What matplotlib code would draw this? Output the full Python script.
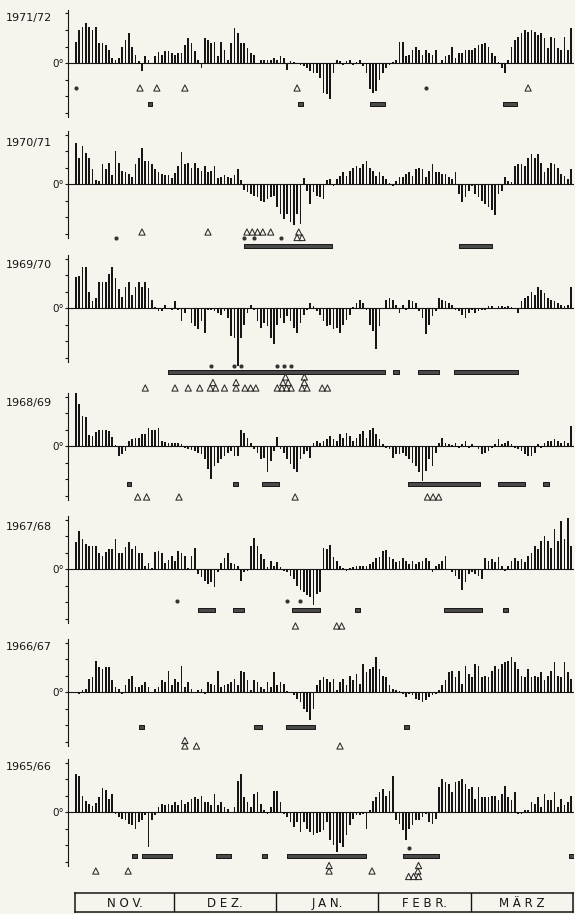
import numpy as np
import matplotlib.pyplot as plt

# daily values (deg C) Nov 1 .. Mar 31, one list per winter
seasons = ['1971/72', '1970/71', '1969/70', '1968/69', '1967/68', '1966/67', '1965/66']
months = ['N O V.', 'D E Z.', 'J A N.', 'F E B R.', 'M Ä R Z']
month_len = [30, 31, 31, 28, 31]

t7172 = ([6.5, 10, 11, 12, 11, 10, 11, 6, 6, 5.5, 4, 1.5, 1, 1.5, 5, 7, 9, 5, 2.5, 0.5, -2.5, 2, 1, -0.4, 2, 3.3, 2.5, 3.5, 3.5, 3]
         + [2.5, 3, 3, 5.5, 7.5, 6, 3.5, 1, -1.5, 7.5, 7, 6, 6.5, 2, 6.5, 4, 1, 6, 10.5, 9, 6, 6, 4.5, 3, 2.5, -0.3, 0.8, 1, 1, 1, 1.5]
         + [1, 2, 1.5, -2, 0.5, 0.3, -0.3, -0.5, -0.8, -1.5, -2.5, -3, -3, -4.5, -9, -9.5, -11, -3, 0.8, 0.5, -0.5, 0.5, 1, -0.5, 0.3, 0.8, -1, -3, -8, -9, -8.5]
         + [-5, -3, -1.5, -0.5, 0.3, 1, 6.5, 6.5, 2, 2.5, 4, 5, 4, 2.5, 4, 3, 2.5, 4, -0.3, 1, 2, 2.5, 5, 1.5, 3, 3, 4, 4]
         + [3.8, 4.5, 5.5, 5.8, 6, 5, 3, 2, 0.3, -1.5, -3, 1, 5, 7, 8, 9, 10, 9.5, 10, 9.5, 8.5, 9, 7.5, 4.5, 8, 7.5, 4.5, 4, 8, 4, 10.5])

t7071 = ([12.5, 8, 11.5, 9.5, 8, 4.5, 1.2, 0.9, 6, 4.5, 6.5, 2.7, 10, 6.5, 4, 3.5, 3, 2.2, 6.2, 8, 11, 7, 7, 6, 4.5, 3.5, 3, 2.8, 2.7, 1.7]
         + [3.2, 5.5, 9.8, 6, 6.5, 5, 6.5, 5, 4, 5.5, 3.7, 4, 5.5, 1.7, 2.2, 2.8, 2.2, 1.7, 2.7, 4.5, 1.2, -1.8, -2.5, -3, -3.5, -4, -5, -5.5, -4.5, -4, -3.5]
         + [-7, -9, -10.5, -9, -11.5, -12.5, -9, -12, 1.7, -2, -6, -2.5, -3.5, -4, -4.5, 1.2, 1.5, -0.5, 1.5, 2.5, 3.5, 2.5, 4, 5, 5.5, 5, 6, 7, 5, 4, 2.5]
         + [3.5, 2.5, 1.5, 0.3, -0.5, 1, 2, 2, 3, 3.5, 2.5, 4.5, 5, 4.5, 2, 4, 6, 3.5, 3.5, 3, 3, 2, 1.5, 3.5, -3, -5.5, -4, -2]
         + [-0.5, -3, -4, -5, -6, -7, -8, -9.5, -3, -2, 2, 1, 0.5, 5.5, 6, 6, 5.5, 8, 9, 8, 9, 6.5, 3.5, 5, 6.5, 6, 5, 3, 2.5, 1.5, 4.5])

t6970 = ([9.3, 9.8, 12.3, 12.3, 5, 2, 3, 7.8, 7.8, 7.8, 10.3, 12.3, 9, 5.8, 3.3, 6.3, 7.8, 4, 6.3, 8, 6.3, 7.8, 6, 2.3, 0.3, -0.8, -1, 1, -0.3, -0.5]
         + [2, -0.5, -4, -1.5, -0.3, -4.5, -5.5, -6.5, -4, -7.5, -0.5, -0.5, -1, -1.5, -2, -1, -3, -8.5, -9, -17.5, -9, -5, -1.5, 1, -0.5, -4, -6, -4.5, -5.5, -9, -11]
         + [-5, -3, -4.5, -2.5, -4, -6, -7.5, -4.5, -2, -0.5, 1.5, 0.5, -1, -2, -4, -5.5, -5, -6.5, -6, -7.5, -5, -3.5, -2, 0.3, 1.5, 2.5, 1.5, -0.5, -5, -7, -12.5]
         + [-5.5, -0.3, 2.5, 3, 2.5, 1, -1.5, 1, -0.5, 2.5, 2, 1.5, -1, -3, -8, -5, -2.5, -1, 3, 2.5, 2, 1.5, 1, -0.5, -1, -2, -3, -1.5]
         + [-0.5, -1.5, -1, -0.5, -0.5, 0.5, 0.7, -0.3, 0.5, 0.5, 0.3, 0.5, 0.2, -0.3, -1.5, 2, 3, 3.5, 5, 4, 6.5, 5.5, 4.5, 3, 2.5, 2, 1.5, 1, 0.5, 1, 6.5])

t6869 = ([16, 12.8, 9, 8.8, 3.3, 3, 4.3, 4.8, 5, 4.8, 4.5, 2.8, 0.3, -3, -2.5, -1.5, 1.5, 2, 2.5, 2.5, 3.5, 3.5, 5.5, 5, 5, 5.5, 1.5, 1.2, 1, 1]
         + [1, 0.8, 0.5, -0.5, -1, -1.2, -1.5, -2, -2.5, -4, -7, -10, -6, -5, -4, -3, -2, -1.5, -3, -3, 5, 4, 2.5, 1, -1, -2, -4, -3.5, -8, -4.5, -1.5]
         + [2.7, -1, -2, -4, -5.5, -7, -8, -4, -2.5, -1.5, -3.5, 1, 1.5, 1, 1.5, 2, 3, 2, 1.5, 3.5, 2.5, 4, 3, 1.5, 2.5, 3.5, 4.5, 2.5, 5, 5.5, 3.5]
         + [2, 0.5, -0.5, -1, -3.5, -2.5, -2.5, -2, -3, -4, -5, -6, -8, -10.5, -7.5, -4, -6, -2, 1, 2.5, 1, 0.5, 0.3, 0.8, -0.5, 0.5, 1.5, -0.5]
         + [0.5, -0.3, -1, -2.5, -2, -1.5, -0.5, 0.5, 2, 0.5, 1, 1.5, 0.5, -0.5, -1, -1.5, -2.5, -3, -3, -2, 0.5, -0.5, 1, 1.5, 1.5, 2, 1.5, 1, 1.5, 1, 6])

t6768 = ([8.3, 11.6, 9, 7.6, 7, 7, 7, 4.8, 3.8, 5.3, 6, 6, 9, 5, 5, 6.6, 8.3, 6, 7, 4.8, 4.8, 0.8, 1.8, 0.3, 5.3, 5.6, 4.8, 1.8, 2.8, 3.8]
         + [2.3, 5.6, 4.8, 3.8, 0.3, 4, 6.3, -1.5, -2.5, -3.5, -4.5, -4, -5.5, -1, 1.8, 3.3, 4.8, 1.8, 1.5, 1, -3.5, -1, -0.5, 7, 9.5, 7, 4.5, 3, 0.5, 2.5, 1]
         + [2, 0.5, -0.5, -0.8, -2, -3, -5, -6.5, -7, -8, -8.5, -11, -7.5, -7, 6.5, 6, 7.3, 3.5, 2.5, 1, 0.3, -0.5, 0.3, 0.5, 1, 1, 1, 0.8, 1.5, 2, 3.3]
         + [3.5, 5.5, 5.8, 3.5, 3, 2, 2.5, 3.3, 2.3, 1.5, 2.5, 1.5, 2, 2.5, 3.3, 2.5, -1, 1, 1.5, 2.5, 4, -0.3, -1, -2, -3, -6.5, -4, -1.5]
         + [-1, -1.5, -2, -3, 3.3, 2.5, 3, 2, 3.5, 1, -0.5, 1, 2.5, 3.3, 2.5, 3, 2, 4, 5, 7, 6, 8.5, 10, 8.5, 6.5, 12, 8.5, 14.5, 9, 15.5, 7])

t6667 = ([-0.3, -0.5, 0.5, 1, 4, 4.5, 9.5, 7.5, 7, 7.5, 7.5, 3.5, 1.5, 1, -0.5, 2, 4, 5, 1.5, 1.5, 2, 3, 1.5, -0.3, 1, 1.5, 3.5, 3, 6.5, 2]
         + [4, 3, 8, 1.5, 3, 1, -0.3, 0.5, 1, -0.5, 3, 2.5, 2, 6.5, 1.5, 2, 2.5, 3, 4, 2, 6.5, 6, 3.5, 0.5, 3.5, 3, 1.5, 1, 3, 1.5, 6]
         + [2, 3, 2.5, 0.3, -0.3, -1, -2, -3, -5, -6, -8.5, -5, 2, 3.5, 4.5, 4, 3, 4, 0.5, 3, 4, 2, 5, 3.5, 5.5, 2.5, 8.5, 6, 7, 7.5, 10.5]
         + [7, 5, 4.5, 2, 1, 0.5, 0.3, -0.5, -1.5, -0.5, -1, -2, -2.5, -3, -2.5, -1.5, -1, -0.5, 0.5, 2, 3.5, 6, 6.5, 4.5, 6.5, 2.5, 8, 5.5]
         + [4.5, 8.5, 8, 4.5, 5, 4.5, 6.5, 8, 7, 8.5, 9, 9.5, 10.5, 9, 7, 5, 4.5, 7, 4.5, 5, 4.5, 6, 3.5, 5, 6.5, 9, 5, 4.5, 9, 6, 4])

t6566 = ([11.5, 11, 4.7, 3.3, 2.5, 1.7, 2.7, 4.5, 7.3, 6.7, 4, 5.5, -0.5, -1.5, -2, -2.5, -3.5, -4, -5, -3, -2.5, -1, -10.5, -2.5, -1, 1.5, 2.3, 2, 2.5, 2]
         + [3, 2, 3.5, 2.5, 3, 4, 4.5, 4, 5, 3, 3, 2, 5.5, 2, 3, 1.5, 1, -0.3, 1.5, 9.5, 11.5, 4.5, 3, 1.5, 5.5, 6, 2.5, 0.5, -0.5, 1.5, 6.5]
         + [6.5, 3, -0.5, -1.5, -3, -4.5, -3, -6, -3, -5, -6, -7, -6.5, -6, -5.5, -3, -8.5, -10, -12, -9.5, -10.5, -7, -4, -2, -1, -1, -0.5, -5, 0.5, 3.3, 4.5]
         + [6, 7, 5, 6.5, 11, -2.5, -3.5, -5.5, -8.5, -5, -4, -2.5, -2.5, -1.5, -0.5, -3, -3.5, -2, 7.5, 10, 9, 8.5, 6, 9, 9.5, 10, 8.5, 7]
         + [7.5, 4, 7.5, 4.5, 4.5, 4.5, 5, 5, 3.5, 5.5, 8, 4.5, 3.5, 6, -0.5, -0.5, 0.5, 0.5, 3, 2.5, 4.5, 1.5, 5.5, 3.5, 3.5, 6, 1.5, 4, 2, 3, 5])

temps = [t7172, t7071, t6970, t6869, t6768, t6667, t6566]

# marker rows under each winter: dots, triangles (day, stack level), thick bars (start day, length)
dots = [[0, 106],
        [12, 51, 54, 62],
        [41, 48, 50, 61, 63, 65],
        [],
        [30.5, 64, 68],
        [],
        [101]]
tris = [[(19.4, 0), (24.5, 0), (33, 0), (67, 0), (137, 0)],
        [(20, 0), (40, 0), (51.8, 0), (53.4, 0), (55, 0), (56.6, 0), (59, 0), (67.5, 0), (67, -1), (68.5, -1)],
        [(21, 0), (30, 0), (34, 0), (37.5, 0), (40.7, 0), (42.3, 0), (41.5, 1), (45, 0), (48.5, 0), (48.5, 1),
         (51.2, 0), (52.9, 0), (54.5, 0), (61, 0), (62.4, 0), (63.8, 0), (65.2, 0), (62.7, 1), (64.3, 1), (63.5, 2),
         (68.5, 0), (70, 0), (69.2, 1), (69.2, 2), (74.6, 0), (76.2, 0)],
        [(18.7, 0), (21.4, 0), (31.2, 0), (66.4, 0), (106.5, 0), (108.2, 0), (109.9, 0)],
        [(66.5, 0), (79, 0), (80.5, 0)],
        [(33, 0), (33, 1), (36.5, 0), (80, 0)],
        [(6, 0), (15.8, 0), (76.7, 0), (76.7, 1), (89.7, 0),
         (100.8, -1), (102.3, -1), (103.8, -1), (103.6, 0), (103.8, 1)]]
frost = [[(21.8, 1.3), (67.4, 1.3), (89, 4.5), (129.5, 4)],
         [(51, 26.5), (116, 10)],
         [(28, 65.5), (96, 2), (103.5, 6.5), (114.5, 19.5)],
         [(15.5, 1.3), (47.5, 1.5), (56.5, 5), (100.5, 22), (128, 8), (141.5, 1.8)],
         [(37, 5), (47.5, 3.5), (65.5, 8.5), (84.5, 1.5), (111.5, 11.5), (129.5, 1.5)],
         [(19, 1.5), (54, 2.5), (63.5, 9), (99.5, 1.5)],
         [(17, 1.5), (20, 9), (42.5, 4.5), (56.5, 1.5), (64, 24), (99, 11), (149.3, 1.5)]]

# layout in pixels of the scan
W, H = 575, 914
PX = 3.3                     # px per day and per degree
zero_px = [63, 184, 308, 446, 569, 692, 812]
label_px = [18, 143, 265, 403, 527, 647, 767]
dot_row = [25, 54, 58, None, 32, None, 36]
bar_row = [41, 62, 64, 38, 41, 35, 44]
tri_row = [25, 48, 80, 51, 57, 54, 59]
TRI_STEP = 5.5

INK = '#161616'
plt.rcParams['font.family'] = ['DejaVu Sans']

fig = plt.figure(figsize=(W / 100, H / 100), dpi=100)
fig.patch.set_facecolor('#f6f4ec')

days = np.arange(151)
for i in range(7):
    vals = np.array(temps[i], dtype=float)
    assert len(vals) == 151, (seasons[i], len(vals))
    Z = zero_px[i]
    ax = fig.add_axes([66 / W, 1 - (Z + 90) / H, 508 / W, 150 / H])
    ax.set_facecolor('none')
    ax.set_xlim(-10 / PX, 498 / PX)
    ax.set_ylim(-90 / PX, 60 / PX)

    ax.bar(days, vals, width=0.5, color=INK, linewidth=0)
    spine_x = -8 / PX
    ax.axhline(0, xmin=2 / 508, xmax=1, color=INK, lw=0.8)

    for s in ['top', 'right', 'bottom']:
        ax.spines[s].set_visible(False)
    ax.spines['left'].set_position(('data', spine_x))
    ax.spines['left'].set_bounds(-16.5, 16)
    ax.spines['left'].set_linewidth(0.8)
    ax.spines['left'].set_color(INK)
    ax.set_xticks([])
    ax.set_yticks([-15, -10, -5, 0, 5, 10, 15])
    ax.set_yticklabels(['', '', '', '0°', '', '', ''])
    ax.tick_params(axis='y', direction='out', length=2.5, width=0.8, pad=0.5,
                   labelsize=7.5, colors=INK)

    if dot_row[i] is not None and dots[i]:
        yd = -dot_row[i] / PX
        ax.scatter(dots[i], [yd] * len(dots[i]), s=9, color='#333333', linewidths=0, zorder=3)
    if tris[i]:
        tx = [t[0] for t in tris[i]]
        ty = [-(tri_row[i] - t[1] * TRI_STEP) / PX for t in tris[i]]
        ax.scatter(tx, ty, s=20, marker='^', facecolors='none', edgecolors='#2a2a2a',
                   linewidths=0.75, zorder=3)
    yb = -bar_row[i] / PX
    ax.broken_barh(frost[i], (yb - 0.7, 1.4), facecolors='#4a4a4a', edgecolors=INK,
                   linewidth=0.7, zorder=2)

    fig.text(6 / W, 1 - label_px[i] / H, seasons[i], fontsize=8, color=INK,
             ha='left', va='center')

# month boxes
mx = fig.add_axes([75 / W, 1 - 912 / H, 498 / W, 19 / H])
mx.set_facecolor('none')
mx.set_xlim(-0.5, 150.5)
mx.set_ylim(0, 1)
mx.set_xticks([])
mx.set_yticks([])
for s in mx.spines.values():
    s.set_linewidth(1.1)
    s.set_color(INK)
edges = np.concatenate([[0], np.cumsum(month_len)])
for e in edges[1:-1]:
    mx.axvline(e - 0.5, color=INK, lw=1.0)
for m, a, b in zip(months, edges[:-1], edges[1:]):
    mx.text((a + b) / 2 - 0.5, 0.47, m, ha='center', va='center', fontsize=8.5, color=INK)

fig.savefig('out.png', dpi=100, facecolor=fig.get_facecolor())
